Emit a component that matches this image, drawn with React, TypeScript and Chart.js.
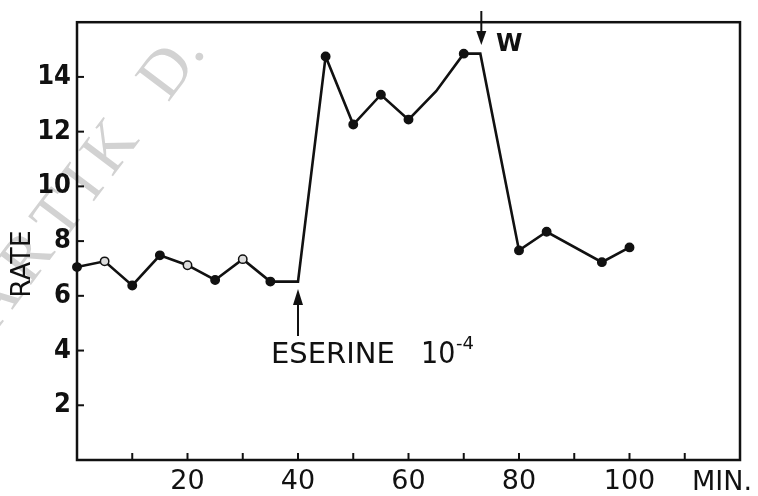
import React, { useEffect, useRef } from 'react';
import { Chart, registerables } from 'chart.js';

Chart.register(...registerables);

// Time (min) and rate readings
const minutes = [0, 5, 10, 15, 20, 25, 30, 35, 40, 45, 50, 55, 60, 65, 70, 73, 80, 85, 95, 100];
const rate = [7.05, 7.26, 6.38, 7.48, 7.12, 6.58, 7.34, 6.52, 6.52, 14.75, 12.26, 13.35, 12.44, 13.48, 14.85, 14.85, 7.66, 8.34, 7.23, 7.77];
// indices of readings drawn without a dot (line bends only)
const bendOnly = [8, 13, 15];
// indices of readings drawn with an open circle
const openDots = [1, 4, 6];

const xTickMarks = [10, 20, 30, 40, 50, 60, 70, 80, 90, 100, 110];
const xTickLabels = [20, 40, 60, 80, 100];
const yTickLabels = [2, 4, 6, 8, 10, 12, 14];

const eserineAt = 40;
const withdrawAt = 73;

const NARROW = '"Liberation Sans Narrow", "DejaVu Sans Condensed", "DejaVu Sans"';

export default function App() {
  const ref = useRef<HTMLCanvasElement | null>(null);

  useEffect(() => {
    document.body.style.margin = '0';
    const canvas = ref.current;
    if (!canvas) return;

    const deco = {
      id: 'deco',
      beforeDraw(chart: any) {
        const ctx = chart.ctx;
        ctx.save();
        // faint watermark
        ctx.translate(168, 103);
        ctx.rotate(-53 * Math.PI / 180);
        ctx.font = '66px "Liberation Serif"';
        ctx.textAlign = 'left';
        ctx.textBaseline = 'alphabetic';
        ctx.fillStyle = '#d2d2d2';
        ctx.fillText('D.', 0, 0);
        let pos = -46;
        const chars = 'KARTIK'.split('').reverse();
        chars.forEach((ch) => {
          const w = ctx.measureText(ch).width;
          pos -= w;
          ctx.fillText(ch, pos, 0);
          pos -= 10;
        });
        ctx.restore();
      },
      afterDraw(chart: any) {
        const ctx = chart.ctx;
        const { left, right, top, bottom } = chart.chartArea;
        const xs = chart.scales.x;
        const ys = chart.scales.y;
        ctx.save();
        ctx.strokeStyle = '#111';
        ctx.fillStyle = '#111';
        ctx.lineWidth = 2.5;
        ctx.strokeRect(left, top, right - left, bottom - top);

        // inner ticks
        ctx.lineWidth = 2;
        xTickMarks.forEach((v) => {
          const px = xs.getPixelForValue(v);
          ctx.beginPath();
          ctx.moveTo(px, bottom);
          ctx.lineTo(px, bottom - 7);
          ctx.stroke();
        });
        yTickLabels.forEach((v) => {
          const py = ys.getPixelForValue(v);
          ctx.beginPath();
          ctx.moveTo(left, py);
          ctx.lineTo(left + 7, py);
          ctx.stroke();
        });

        // y axis title
        ctx.save();
        ctx.translate(23, 264);
        ctx.rotate(-Math.PI / 2);
        ctx.font = '27px "DejaVu Sans"';
        ctx.textAlign = 'center';
        ctx.textBaseline = 'middle';
        ctx.fillText('RATE', 0, 0);
        ctx.restore();

        // MIN.
        ctx.font = '27px "DejaVu Sans"';
        ctx.textAlign = 'left';
        ctx.textBaseline = 'alphabetic';
        ctx.fillText('MIN.', 692, 490);

        // eserine arrow
        const ex = xs.getPixelForValue(eserineAt);
        ctx.lineWidth = 2;
        ctx.beginPath();
        ctx.moveTo(ex, 336);
        ctx.lineTo(ex, 300);
        ctx.stroke();
        ctx.beginPath();
        ctx.moveTo(ex, 289);
        ctx.lineTo(ex - 5, 305);
        ctx.lineTo(ex + 5, 305);
        ctx.closePath();
        ctx.fill();
        ctx.font = '29px "DejaVu Sans"';
        ctx.fillText('ESERINE', 271, 363);
        ctx.font = '30px ' + NARROW;
        ctx.fillText('10', 421, 363);
        ctx.font = '18px "DejaVu Sans"';
        ctx.fillText('-4', 456, 349);

        // withdrawal arrow
        const wx = xs.getPixelForValue(withdrawAt) + 1;
        ctx.beginPath();
        ctx.moveTo(wx, 11);
        ctx.lineTo(wx, 36);
        ctx.stroke();
        ctx.beginPath();
        ctx.moveTo(wx, 45);
        ctx.lineTo(wx - 5, 31);
        ctx.lineTo(wx + 5, 31);
        ctx.closePath();
        ctx.fill();
        ctx.font = 'bold 24px "DejaVu Sans"';
        ctx.fillText('W', 496, 51);
        ctx.restore();
      },
    };

    const chart = new Chart(canvas, {
      type: 'line',
      data: {
        datasets: [
          {
            data: minutes.map((m, i) => ({ x: m, y: rate[i] })),
            borderColor: '#111',
            borderWidth: 2.6,
            pointRadius: minutes.map((_, i) => (bendOnly.includes(i) ? 0 : 4.2)),
            pointBackgroundColor: minutes.map((_, i) => (openDots.includes(i) ? '#ddd' : '#111')),
            pointBorderColor: '#111',
            pointBorderWidth: 1.5,
            tension: 0,
            clip: false,
          } as any,
        ],
      },
      options: {
        animation: false,
        responsive: false,
        events: [],
        layout: { padding: { left: 0, top: 15, right: 18, bottom: 0 } },
        plugins: { legend: { display: false }, tooltip: { enabled: false } },
        scales: {
          x: {
            type: 'linear',
            min: 0,
            max: 120,
            grid: { display: false, drawTicks: false },
            border: { display: false },
            ticks: {
              stepSize: 10,
              autoSkip: false,
              maxRotation: 0,
              padding: 6,
              color: '#111',
              font: { family: 'DejaVu Sans', size: 27 },
              callback: (v: any) => (xTickLabels.includes(Number(v)) ? String(v) : ''),
            },
            afterFit: (s: any) => {
              s.height = 36;
            },
          },
          y: {
            type: 'linear',
            min: 0,
            max: 16,
            grid: { display: false, drawTicks: false },
            border: { display: false },
            ticks: {
              stepSize: 2,
              autoSkip: false,
              padding: 6,
              color: '#111',
              font: { family: NARROW, size: 27, weight: 'bold' },
              callback: (v: any) => (yTickLabels.includes(Number(v)) ? String(v) : ''),
            },
            afterFit: (s: any) => {
              s.width = 77;
            },
          },
        },
      },
      plugins: [deco],
    });

    return () => chart.destroy();
  }, []);

  return (
    <div style={{ position: 'absolute', left: 0, top: 0, width: 758, height: 496, background: '#fff' }}>
      <canvas ref={ref} width={758} height={496} style={{ display: 'block' }} />
    </div>
  );
}
